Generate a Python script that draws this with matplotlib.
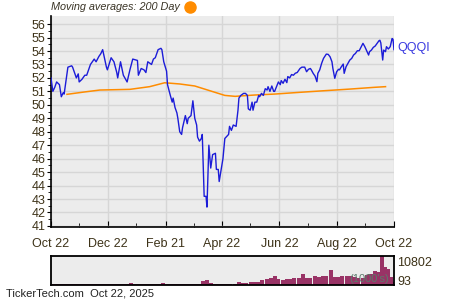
import numpy as np
import pandas as pd
import matplotlib
matplotlib.use('Agg')
import matplotlib.pyplot as plt
import matplotlib.dates as mdates
from matplotlib.lines import Line2D

plt.rcParams['font.family'] = ['Liberation Sans', 'DejaVu Sans']

start = pd.Timestamp('2024-10-22')
end = pd.Timestamp('2025-10-22')

# closing price (days after start, value)
price_days = [0, 2, 4, 6, 9, 11, 13, 14, 18, 22, 23, 27, 29, 30, 33, 36, 38, 42, 46, 48,
              51, 53, 55, 59, 60, 64, 67, 70, 71, 74, 77, 81, 84, 87, 92, 93, 96, 99, 101, 103,
              107, 109, 111, 114, 117, 118, 120, 123, 124, 127, 129, 130, 132, 134, 135, 137, 139, 140, 143, 145,
              146, 149, 151, 153, 155, 156, 158, 160, 161, 163, 165, 166, 168, 170, 172, 175, 176, 178, 179, 183,
              185, 189, 190, 192, 194, 197, 199, 200, 202, 205, 207, 209, 210, 212, 214, 215, 217, 219, 221, 222,
              224, 226, 228, 230, 231, 233, 235, 237, 238, 240, 242, 244, 245, 247, 249, 251, 252, 254, 256, 258,
              260, 262, 265, 267, 270, 272, 274, 276, 277, 279, 281, 283, 284, 286, 288, 290, 293, 295, 297, 299,
              300, 302, 304, 306, 307, 309, 311, 312, 314, 316, 318, 320, 322, 324, 326, 328, 331, 332, 334, 336,
              338, 339, 341, 343, 345, 347, 349, 350, 351, 353, 354, 356, 357, 359, 361, 363, 364, 365]
price = [52.0, 51.0, 51.3, 51.7, 51.5, 50.6, 50.9, 50.8, 52.8, 52.9, 52.8, 52.0, 52.3, 51.7, 51.9, 52.2, 52.2, 53.0, 53.4, 53.2,
         53.6, 53.8, 54.1, 52.8, 52.6, 53.5, 53.2, 52.4, 52.0, 53.2, 52.2, 51.7, 52.6, 53.4, 53.3, 52.2, 52.7, 52.6, 52.4, 53.2,
         53.0, 53.4, 53.5, 54.1, 54.2, 54.1, 53.2, 52.5, 51.5, 50.7, 50.2, 50.5, 49.8, 49.4, 49.0, 48.0, 47.8, 48.3, 49.2, 48.6,
         49.0, 49.2, 50.3, 49.0, 48.5, 47.6, 47.3, 47.5, 47.8, 43.2, 43.2, 42.4, 47.0, 45.3, 46.3, 46.4, 45.2, 45.2, 44.3, 46.0,
         47.5, 47.8, 48.4, 48.1, 48.5, 48.4, 49.6, 50.5, 50.7, 50.85, 50.85, 50.7, 49.7, 49.6, 50.2, 49.6, 50.2, 50.2, 50.7, 50.6,
         50.85, 50.7, 51.2, 51.1, 51.35, 51.0, 51.4, 51.0, 51.0, 51.35, 51.7, 51.5, 51.8, 51.6, 51.9, 51.65, 52.1, 52.0, 52.25, 52.2,
         52.35, 52.4, 52.7, 52.8, 52.8, 52.46, 52.64, 52.7, 52.6, 52.34, 52.14, 51.72, 52.34, 52.6, 53.08, 53.45, 53.77, 53.75, 53.57, 53.2,
         52.7, 51.97, 52.46, 52.64, 52.6, 52.83, 53.03, 52.34, 52.83, 53.08, 53.33, 53.45, 53.7, 53.82, 54.02, 54.02, 54.44, 54.57, 54.32, 54.0,
         53.7, 53.95, 54.07, 54.27, 54.37, 54.57, 54.76, 54.8, 54.6, 53.33, 54.07, 53.95, 54.32, 54.15, 54.32, 54.93, 54.86, 54.1]

# 200 day moving average
ma_days = [17, 35, 52, 84, 105, 121, 137, 153, 169, 185, 196, 206, 217, 238, 265, 291, 318, 344, 356]
ma200 = [50.78, 50.95, 51.1, 51.15, 51.35, 51.64, 51.55, 51.4, 51.05, 50.7, 50.63, 50.68, 50.73, 50.8,
         50.93, 51.05, 51.17, 51.3, 51.35]

# volume (thousands)
vol_days = [0, 4, 9, 13, 17, 21, 26, 30, 34, 38, 43, 47, 51, 55, 60, 64, 68, 72, 77, 81,
            85, 89, 94, 98, 102, 106, 111, 115, 119, 123, 128, 132, 136, 140, 145, 149, 153, 157, 162, 166,
            170, 174, 179, 183, 187, 191, 196, 200, 204, 208, 213, 217, 221, 225, 230, 234, 238, 242, 247, 251,
            255, 259, 264, 268, 272, 276, 281, 285, 289, 293, 298, 302, 306, 310, 315, 319, 323, 327, 332, 336,
            340, 345, 349, 352, 355, 359, 362, 364]
volume = [190, 190, 190, 370, 190, 190, 370, 260, 190, 190, 190, 190, 190, 260, 480, 260, 370, 480, 370, 260,
          740, 370, 480, 370, 480, 260, 370, 370, 740, 480, 370, 480, 370, 370, 370, 480, 480, 190, 1490, 1860,
          740, 480, 560, 370, 370, 370, 560, 1120, 740, 930, 1120, 1120, 1300, 2050, 2230, 2600, 3350, 2230, 1860, 2230,
          2230, 2600, 2600, 4090, 2600, 2600, 3350, 2980, 3350, 3350, 5580, 2980, 2980, 3350, 3350, 3350, 2980, 2600,
          2600, 3720, 4090, 5210, 4840, 10802, 6700, 5950, 2980, 1120]
vol_max = 10802
vol_min = 93

x_ticks = ['2024-10-22', '2024-12-22', '2025-02-21', '2025-04-22', '2025-06-22', '2025-08-22', '2025-10-22']
x_minor = ['2024-11-21', '2025-01-21', '2025-03-23', '2025-05-22', '2025-07-22', '2025-09-21']

txt = '#3d3218'
pd_dates = start + pd.to_timedelta(price_days, unit='D')
ma_dates = start + pd.to_timedelta(ma_days, unit='D')
v_dates = start + pd.to_timedelta(vol_days, unit='D')

fig = plt.figure(figsize=(4.5, 3.0), dpi=100)
ax = fig.add_axes([0.1133, 0.2433, 0.7622, 0.7033])
ax.set_facecolor('#ececec')
ax.plot(pd_dates, price, color='#1c1cd8', lw=1.0, zorder=3)
ax.plot(ma_dates, ma200, color='#ff8c00', lw=1.1, zorder=2)
ax.set_xlim(start, end)
ax.set_ylim(40.92, 56.6)
ax.set_yticks(range(41, 57))
ax.set_yticks(np.arange(41.5, 56.5, 1), minor=True)
ax.set_xticks(pd.to_datetime(x_ticks))
ax.set_xticks(pd.to_datetime(x_minor), minor=True)
ax.xaxis.set_major_formatter(mdates.DateFormatter('%b %d'))
ax.grid(True, which='major', color='#d6d6d6', lw=1.0, zorder=0)
for s in ['top', 'right']:
    ax.spines[s].set_visible(False)
for s in ['left', 'bottom']:
    ax.spines[s].set_linewidth(1.2)
ax.tick_params(axis='y', which='major', direction='out', length=3, labelsize=9, labelcolor=txt, pad=1)
ax.tick_params(axis='y', which='minor', direction='out', length=2)
ax.tick_params(axis='x', which='major', direction='in', length=4, labelsize=9, labelcolor=txt, pad=8)
ax.tick_params(axis='x', which='minor', direction='in', length=3)
ax.set_axisbelow(True)

fig.text(0.1127, 0.975, 'Moving averages: 200 Day', style='italic', fontsize=7.8,
         color='#3a3426', ha='left', va='center')
fig.add_artist(Line2D([0.4225], [0.977], transform=fig.transFigure, marker='o',
                      markersize=8, color='#ff8c00', linestyle='none'))
fig.text(0.882, 0.84, 'QQQI', fontsize=9, color='#3a3ae0', ha='left', va='center')

vx = fig.add_axes([0.1133, 0.05, 0.7622, 0.0957])
vx.set_facecolor('#ececec')
vx.bar(v_dates, volume, width=4.3, color='#993366', align='center', zorder=2)
vx.set_xlim(start, end)
vx.set_ylim(0, vol_max)
vx.set_xticks([])
vx.set_yticks([])
for s in vx.spines.values():
    s.set_linewidth(1.3)
fig.text(0.883, 0.123, str(vol_max), fontsize=9, color=txt, ha='left', va='center')
fig.text(0.883, 0.06, str(vol_min), fontsize=9, color=txt, ha='left', va='center')
vx.text(0.985, 0.22, "(1000's)", transform=vx.transAxes, fontsize=8, color='#5b7a6b',
        ha='right', va='center', zorder=5)

fig.text(0.013, 0.02, 'TickerTech.com  Oct 22, 2025', fontsize=8, color='#222222',
         ha='left', va='center')

fig.savefig('out.png', dpi=100)
